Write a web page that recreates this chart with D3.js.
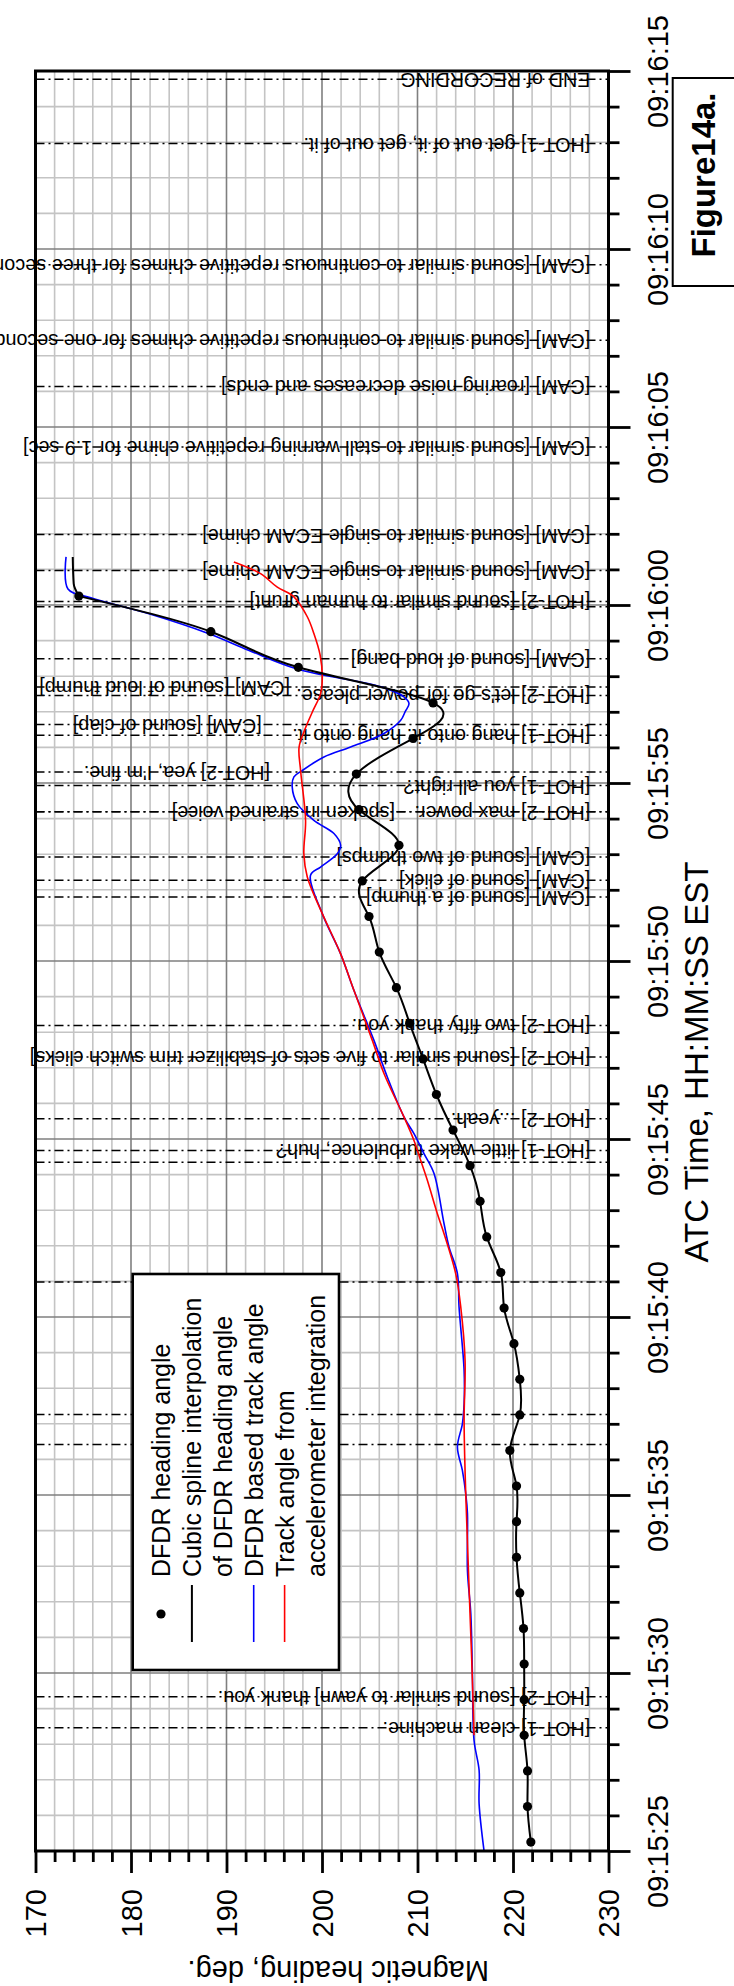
<!DOCTYPE html>
<html>
<head>
<meta charset="utf-8">
<script src="https://cdn.jsdelivr.net/npm/d3@7"></script>
<style>
  body { margin: 0; background: #fff; }
  svg { display: block; }
  text { font-family: Arial, "Liberation Sans", sans-serif; fill: #000; }
</style>
</head>
<body>
<svg id="chart" width="734" height="1986"></svg>
<script>
// Time values are seconds after 09:15:25 EST
const startClock = new Date(2009, 0, 15, 9, 15, 25);

// DFDR heading samples (one per second)
const dfdrTime = [0.25, 1.25, 2.25, 3.25, 4.25, 5.25, 6.25, 7.25, 8.25, 9.25, 10.25, 11.25,
  12.25, 13.25, 14.25, 15.25, 16.25, 17.25, 18.25, 19.25, 20.25, 21.25, 22.25, 23.25,
  24.25, 25.25, 26.25, 27.25, 28.25, 29.25, 30.25, 31.25, 32.25, 33.25, 34.25, 35.25];
const dfdrHeading = [221.87, 221.52, 221.52, 221.17, 221.17, 221.17, 221.1, 220.71, 220.37, 220.37,
  220.37, 219.67, 220.71, 220.71, 220.1, 219.07, 218.72, 217.25, 216.55, 215.5, 213.72, 211.98,
  210.58, 209.18, 207.79, 206.0, 204.92, 204.22, 208.06, 203.87, 203.6, 209.53, 211.63, 197.52,
  188.36, 174.54];

// Spline run-out after the last sample
const splineEndTime = [35.6, 36.35];
const splineEndHeading = [174.0, 173.9];

// DFDR based track angle
const trackTime = [0, 1.33, 2.27, 3.11, 4.98, 6.67, 7.88, 9.48, 10.04, 10.69, 11.35, 12.0, 12.57,
  13.5, 15.28, 16.22, 16.97, 17.62, 19.03, 19.59, 20.15, 20.62, 21.74, 22.77, 24.17, 25.2,
  26.33, 27.41, 27.64, 28.01, 28.25, 28.58, 28.95, 29.42, 29.89, 30.17, 30.35, 30.73, 31.01,
  31.39, 31.76, 32.0, 32.23, 32.42, 32.7, 33.2, 33.73, 34.2, 34.76, 35.2, 35.45, 36.35];
const trackHeading = [216.97, 216.45, 216.45, 215.92, 215.75, 215.58, 215.23, 215.23, 215.05,
  214.7, 214.18, 214.7, 214.88, 214.88, 214.35, 214.18, 213.3, 212.78, 211.73, 210.68, 209.63,
  208.58, 206.84, 205.44, 203.35, 201.95, 200.03, 198.8, 199.85, 201.6, 201.95, 201.25, 199.15,
  197.41, 196.88, 197.06, 197.93, 200.2, 203.0, 206.49, 208.24, 208.7, 209.11, 208.58, 206.2,
  197.4, 192.3, 188.1, 181.8, 175.8, 173.4, 173.2];

// Track angle from accelerometer integration
const accelTime = [3.25, 5.36, 10.04, 12.1, 13.78, 15.28, 16.22, 17.34, 17.9, 18.84, 19.4, 19.96,
  20.62, 21.84, 22.77, 24.17, 25.2, 26.33, 27.36, 28.01, 28.95, 30.35, 31.01, 31.5, 32.0, 32.51,
  32.98, 33.6, 34.2, 34.67, 35.23, 35.5, 35.88, 36.21];
const accelHeading = [215.92, 215.68, 215.05, 214.88, 214.98, 214.53, 214.0, 212.78, 212.08,
  211.03, 210.33, 209.63, 208.58, 206.49, 205.27, 203.35, 201.95, 200.03, 198.46, 198.1, 198.28,
  197.76, 197.6, 198.2, 199.0, 199.85, 200.03, 199.8, 199.15, 198.46, 197.06, 195.32, 193.57,
  190.77];

// Cockpit voice recorder events
const eventTime = [49.77, 47.96, 44.56, 42.44, 41.14, 39.44, 36.98, 35.97, 35.1, 34.95, 33.49,
  32.7, 32.46, 31.64, 31.34, 30.31, 29.93, 29.19, 29.19, 27.92, 27.27, 26.8, 23.19, 22.3, 20.57,
  19.68, 19.35, 15.98, 12.26, 11.42, 4.33, 3.46];
const eventText = [
  "END of RECORDING",
  "[HOT-1] get out of it, get out of it.",
  "[CAM] [sound similar to continuous repetitive chimes for three seconds]",
  "[CAM] [sound similar to continuous repetitive chimes for one second]",
  "[CAM] [roaring noise decreases and ends]",
  "[CAM] [sound similar to stall warning repetitive chime for 1.9 sec]",
  "[CAM] [sound similar to single ECAM chime]",
  "[CAM] [sound similar to single ECAM chime]",
  "[HOT-2] [sound similar to human grunt]",
  "",
  "[CAM] [sound of loud bang]",
  "[CAM] [sound of loud thump]",
  "[HOT-2] let's go for power please.",
  "[CAM] [sound of clap]",
  "[HOT-1] hang onto it. hang onto it.",
  "[HOT-2] yea, I'm fine.",
  "[HOT-1] you all right?",
  "[HOT-2] max power.",
  "[spoken in strained voice]",
  "[CAM] [sound of two thumps]",
  "[CAM] [sound of click]",
  "[CAM] [sound of a thump]",
  "[HOT-2] two fifty thank you.",
  "[HOT-2] [sound similar to five sets of stabilizer trim switch clicks]",
  "[HOT-2] ...yeah.",
  "[HOT-1] little wake turbulence, huh?",
  "", "", "", "",
  "[HOT-2] [sound similar to yawn] thank you.",
  "[HOT-1] clean machine."
];
// heading at which each event caption begins
const eventCaptionAt = [228.1, 228.1, 228.1, 228.1, 228.1, 228.1, 228.1, 228.1, 228.1, 228.1,
  228.1, 196.65, 228.1, 193.7, 228.1, 194.55, 228.1, 228.1, 207.64, 228.1, 228.1, 228.1, 228.1,
  228.1, 228.1, 228.1, 228.1, 228.1, 228.1, 228.1, 228.1, 228.1];

const headingTicks = [170, 180, 190, 200, 210, 220, 230];
const timeTicks = [0, 5, 10, 15, 20, 25, 30, 35, 40, 45, 50];

const legendLabels = [
  "DFDR heading angle",
  "Cubic spline interpolation",
  "of DFDR heading angle",
  "DFDR based track angle",
  "Track angle from",
  "accelerometer integration"
];
const legendKeys = ["dot", "black", "", "blue", "red", ""];

// ---------------------------------------------------------------
const svg = d3.select("#chart");
const plot = { left: 35.5, right: 608.5, top: 71, bottom: 1851 };

const x = d3.scaleLinear().domain([170, 230]).range([plot.left, plot.right]);
const y = d3.scaleLinear().domain([0, 50]).range([plot.bottom, plot.top]);
const clock = d3.timeFormat("%H:%M:%S");
const label = s => clock(new Date(+startClock + s * 1000));

svg.append("rect").attr("width", 734).attr("height", 1986).attr("fill", "#fff");

// grid
const grid = svg.append("g");
grid.selectAll(".vminor").data(d3.range(172, 230, 2).filter(v => v % 10 !== 0)).join("line")
  .attr("x1", d => x(d)).attr("x2", d => x(d)).attr("y1", plot.top).attr("y2", plot.bottom)
  .attr("stroke", "#c4c4c4").attr("stroke-width", 1.6);
grid.selectAll(".hminor").data(d3.range(1, 50).filter(v => v % 5 !== 0)).join("line")
  .attr("y1", d => y(d)).attr("y2", d => y(d)).attr("x1", plot.left).attr("x2", plot.right)
  .attr("stroke", "#c4c4c4").attr("stroke-width", 1.6);
grid.selectAll(".vmajor").data(headingTicks.slice(1, -1)).join("line")
  .attr("x1", d => x(d)).attr("x2", d => x(d)).attr("y1", plot.top).attr("y2", plot.bottom)
  .attr("stroke", "#7f7f7f").attr("stroke-width", 1.6);
grid.selectAll(".hmajor").data(timeTicks.slice(1, -1)).join("line")
  .attr("y1", d => y(d)).attr("y2", d => y(d)).attr("x1", plot.left).attr("x2", plot.right)
  .attr("stroke", "#7f7f7f").attr("stroke-width", 1.6);

// event marker lines
const events = eventTime.map((t, i) => ({ t, text: eventText[i], at: eventCaptionAt[i] }));
svg.append("g").selectAll("line").data(events).join("line")
  .attr("x1", plot.left).attr("x2", plot.right)
  .attr("y1", d => y(d.t)).attr("y2", d => y(d.t))
  .attr("stroke", "#000").attr("stroke-width", 1.5)
  .attr("stroke-dasharray", "9,4,2,4");

// event captions, printed upside down
svg.append("g").selectAll("text").data(events.filter(d => d.text)).join("text")
  .attr("transform", d => `translate(${x(d.at)},${y(d.t)}) rotate(180)`)
  .attr("dy", "0.3em")
  .attr("font-size", 19.8)
  .text(d => d.text);

// series
const track = trackTime.map((t, i) => ({ t, h: trackHeading[i] }));
const accel = accelTime.map((t, i) => ({ t, h: accelHeading[i] }));
const dfdr = dfdrTime.map((t, i) => ({ t, h: dfdrHeading[i] }));
const runOut = [dfdr[dfdr.length - 1]].concat(splineEndTime.map((t, i) => ({ t, h: splineEndHeading[i] })));

const smooth = d3.line().x(d => x(d.h)).y(d => y(d.t)).curve(d3.curveCatmullRom.alpha(0.5));
const natural = d3.line().x(d => x(d.h)).y(d => y(d.t)).curve(d3.curveNatural);
const monotone = d3.line().x(d => x(d.h)).y(d => y(d.t)).curve(d3.curveMonotoneY);

svg.append("path").datum(track).attr("d", smooth)
  .attr("fill", "none").attr("stroke", "#0000ff").attr("stroke-width", 1.6);
svg.append("path").datum(accel).attr("d", smooth)
  .attr("fill", "none").attr("stroke", "#ff0000").attr("stroke-width", 1.6);
svg.append("path").datum(dfdr).attr("d", natural)
  .attr("fill", "none").attr("stroke", "#000").attr("stroke-width", 2);
svg.append("path").datum(runOut).attr("d", monotone)
  .attr("fill", "none").attr("stroke", "#000").attr("stroke-width", 2);
svg.append("g").selectAll("circle").data(dfdr).join("circle")
  .attr("cx", d => x(d.h)).attr("cy", d => y(d.t)).attr("r", 4.6).attr("fill", "#000");

// legend
const lg = { x0: 132.7, y0: 1274, x1: 339, y1: 1670 };
const legend = svg.append("g");
legend.append("rect").attr("x", lg.x0).attr("y", lg.y0)
  .attr("width", lg.x1 - lg.x0).attr("height", lg.y1 - lg.y0)
  .attr("fill", "#fff").attr("stroke", "#000").attr("stroke-width", 2.6);
const rowX = i => 161 + i * 30.9;
legendLabels.forEach((txt, i) => {
  legend.append("text")
    .attr("transform", `translate(${rowX(i)},1577) rotate(-90)`)
    .attr("dy", "0.36em").attr("font-size", 25).text(txt);
  const key = legendKeys[i];
  if (key === "dot") {
    legend.append("circle").attr("cx", rowX(i)).attr("cy", 1614).attr("r", 4.6).attr("fill", "#000");
  } else if (key) {
    legend.append("line").attr("x1", rowX(i)).attr("x2", rowX(i)).attr("y1", 1585).attr("y2", 1642)
      .attr("stroke", key === "black" ? "#000" : key === "blue" ? "#0000ff" : "#ff0000")
      .attr("stroke-width", key === "black" ? 2 : 1.6);
  }
});

// plot frame
svg.append("rect").attr("x", plot.left).attr("y", plot.top)
  .attr("width", plot.right - plot.left).attr("height", plot.bottom - plot.top)
  .attr("fill", "none").attr("stroke", "#000").attr("stroke-width", 3);

// time axis (right)
const tAxis = svg.append("g").attr("transform", `translate(${plot.right},0)`);
tAxis.call(d3.axisRight(y).tickValues(d3.range(1, 50).filter(v => v % 5 !== 0))
  .tickSize(11).tickFormat(""));
tAxis.append("g").call(d3.axisRight(y).tickValues(timeTicks).tickSize(22).tickFormat(label));
tAxis.selectAll(".domain").remove();
tAxis.selectAll("line").attr("stroke", "#000").attr("stroke-width", 2.8);
tAxis.selectAll("text")
  .attr("x", null).attr("dy", null)
  .attr("transform", "translate(59.5,0) rotate(-90)")
  .attr("text-anchor", "middle")
  .attr("font-size", 29).attr("font-family", "Arial, 'Liberation Sans', sans-serif").attr("fill", "#000");

// heading axis (bottom)
const hAxis = svg.append("g").attr("transform", `translate(0,${plot.bottom})`);
hAxis.call(d3.axisBottom(x).tickValues(d3.range(172, 230, 2).filter(v => v % 10 !== 0))
  .tickSize(11).tickFormat(""));
hAxis.append("g").call(d3.axisBottom(x).tickValues(headingTicks).tickSize(22).tickFormat(d3.format("d")));
hAxis.selectAll(".domain").remove();
hAxis.selectAll("line").attr("stroke", "#000").attr("stroke-width", 2.8);
hAxis.selectAll("text")
  .attr("y", null).attr("dy", "0.36em")
  .attr("transform", "translate(0,38) rotate(-90)")
  .attr("text-anchor", "end")
  .attr("font-size", 29).attr("font-family", "Arial, 'Liberation Sans', sans-serif").attr("fill", "#000");

// axis titles
svg.append("text")
  .attr("transform", `translate(${x(201.7)},1961) rotate(180)`)
  .attr("text-anchor", "middle").attr("font-size", 29)
  .text("Magnetic heading, deg.");
svg.append("text")
  .attr("transform", `translate(708,1062) rotate(-90)`)
  .attr("text-anchor", "middle").attr("font-size", 33)
  .text("ATC Time, HH:MM:SS EST");

// figure tag
svg.append("rect").attr("x", 672.7).attr("y", 78).attr("width", 80).attr("height", 208)
  .attr("fill", "#fff").attr("stroke", "#000").attr("stroke-width", 2);
svg.append("text")
  .attr("transform", "translate(703,175) rotate(-90)")
  .attr("text-anchor", "middle").attr("dy", "0.36em")
  .attr("font-size", 33).attr("font-weight", "bold")
  .text("Figure14a.");
</script>
</body>
</html>
